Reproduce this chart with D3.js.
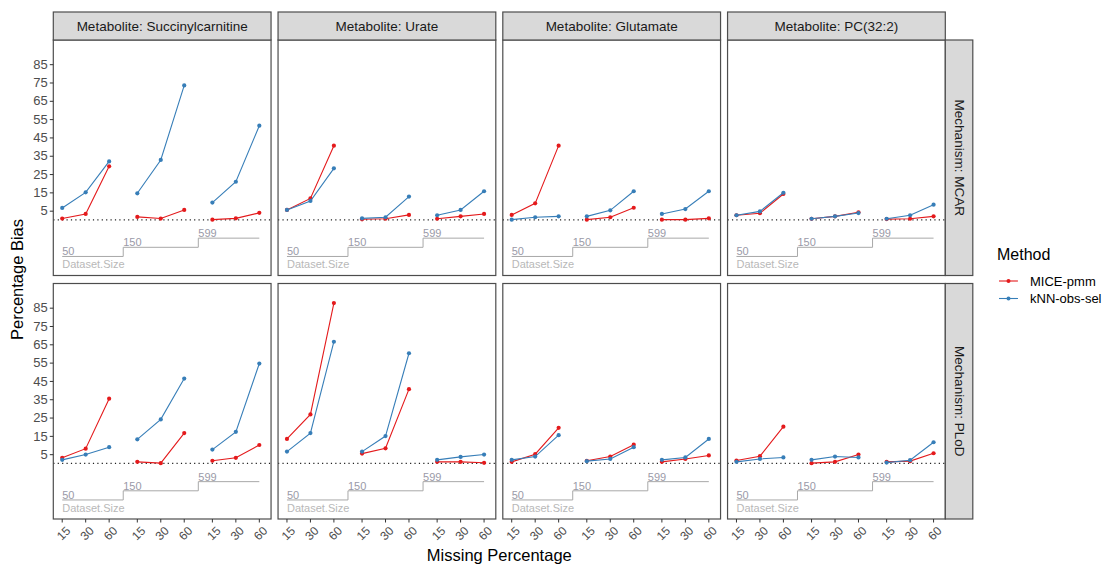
<!DOCTYPE html>
<html>
<head>
<meta charset="utf-8">
<script src="https://cdn.jsdelivr.net/npm/d3@7"></script>
<style>
  body { margin: 0; background: #fff; }
  svg { font-family: "Liberation Sans", Arial, sans-serif; }
</style>
</head>
<body>
<svg id="chart" width="1105" height="564"></svg>
<script>
// facet labels
let metabolites = ['Succinylcarnitine', 'Urate', 'Glutamate', 'PC(32:2)'];
let mechanisms = ['MCAR', 'PLoD'];
let methods = ['MICE-pmm', 'kNN-obs-sel'];
let methodColors = ['#E41A1C', '#377EB8'];
let datasetSizes = [50, 150, 599];
let missingPct = [15, 30, 60];
let yTicks = [5, 15, 25, 35, 45, 55, 65, 75, 85];

// bias values, one row per metabolite: size 50 (15,30,60), size 150 (15,30,60), size 599 (15,30,60)
let miceMCAR = [
    [0.7, 3.2, 29.2, 1.6, 0.7, 5.4, 0.1, 0.8, 3.8],
    [5.4, 11.7, 40.5, 0.3, 0.6, 2.7, 0.6, 1.9, 3.2],
    [2.7, 9.0, 40.5, 0.1, 1.4, 6.6, 0.1, 0.1, 0.8],
    [2.5, 3.6, 14.1, 0.6, 1.9, 4.1, 0.4, 0.6, 1.9]
];
let knnMCAR = [
    [6.5, 15.0, 31.9, 14.5, 32.7, 73.4, 9.4, 20.8, 51.4],
    [5.4, 10.3, 28.1, 0.8, 1.4, 12.7, 2.5, 5.4, 15.6],
    [0.1, 1.4, 1.9, 1.9, 5.2, 15.6, 3.2, 5.9, 15.6],
    [2.5, 4.6, 14.8, 0.6, 1.9, 3.7, 0.6, 2.5, 8.3]
];
let micePLoD = [
    [3.0, 8.0, 35.3, 0.8, 0.1, 16.5, 1.4, 3.0, 10.0],
    [13.3, 26.7, 87.5, 5.3, 8.2, 40.5, 0.8, 0.8, 0.3],
    [0.8, 5.0, 19.4, 1.4, 3.7, 10.2, 0.8, 2.4, 4.3],
    [1.5, 3.9, 20.0, 0.1, 0.8, 4.8, 0.8, 1.2, 5.5]
];
let knnPLoD = [
    [1.9, 4.8, 8.8, 13.1, 24.0, 46.3, 7.5, 17.2, 54.5],
    [6.4, 16.5, 66.4, 6.4, 14.9, 60.1, 1.9, 3.5, 4.8],
    [1.9, 3.7, 15.4, 1.2, 2.4, 8.8, 1.9, 3.2, 13.3],
    [0.8, 2.4, 3.2, 1.9, 3.7, 3.2, 0.4, 1.7, 11.5]
];

let biasData = {
    'MCAR': [miceMCAR, knnMCAR],
    'PLoD': [micePLoD, knnPLoD]
};

let LEFT = 53.3;
let TOP = 40;
let PANEL_W = 217.75;
let PANEL_H = 235.5;
let GAP_X = 7;
let GAP_Y = 8;
let STRIP = 28;
let GROUP_GAP = 3.2;

let svg = d3.select('#chart');

// x position within a panel: nested index (dataset size, then missing %)
function xIndex(g, p) { return g * GROUP_GAP + p; }

let xScale = d3.scaleLinear().domain([-0.38, 8.9]).range([0, PANEL_W]);
let yScale = d3.scaleLinear().domain([-30.4, 98.2]).range([PANEL_H, 0]);

// step line for dataset size
let stepBase = -20, stepHeight = 5;
let stepPts = [];
datasetSizes.forEach((s, g) => {
    let lvl = stepBase + g * stepHeight;
    let x0 = g == 0 ? xIndex(0, 0) : (xIndex(g - 1, 2) + xIndex(g, 0)) / 2;
    let x1 = g == datasetSizes.length - 1 ? xIndex(g, 2) : (xIndex(g, 2) + xIndex(g + 1, 0)) / 2;
    stepPts.push({x: x0, y: lvl, size: s});
    stepPts.push({x: x1, y: lvl});
});

let lineGen = d3.line().x(d => xScale(d.x)).y(d => yScale(d.y));

mechanisms.forEach((mech, r) => {
    metabolites.forEach((met, c) => {
        let px = LEFT + c * (PANEL_W + GAP_X);
        let py = TOP + r * (PANEL_H + GAP_Y);
        let g = svg.append('g').attr('transform', `translate(${px},${py})`);

        g.append('rect')
            .attr('width', PANEL_W).attr('height', PANEL_H)
            .attr('fill', 'white');

        // zero reference
        g.append('line')
            .attr('x1', 0).attr('x2', PANEL_W)
            .attr('y1', yScale(0)).attr('y2', yScale(0))
            .attr('stroke', '#222').attr('stroke-width', 1.1)
            .attr('stroke-dasharray', '1.2,3.2');

        // dataset size steps
        g.append('path')
            .datum(stepPts)
            .attr('d', lineGen)
            .attr('fill', 'none')
            .attr('stroke', '#a8a8a8')
            .attr('stroke-width', 1);

        g.selectAll('.steplab')
            .data(stepPts.filter(d => d.size))
            .join('text')
            .attr('x', d => xScale(d.x))
            .attr('y', d => yScale(d.y) - 1)
            .attr('font-size', 11)
            .attr('fill', '#9a9aa8')
            .text(d => d.size);

        g.append('text')
            .attr('x', xScale(xIndex(0, 0)))
            .attr('y', yScale(stepBase) + 12)
            .attr('font-size', 11)
            .attr('fill', '#b8b8b8')
            .text('Dataset.Size');

        methods.forEach((m, k) => {
            let vals = biasData[mech][k][c];
            let pts = [];
            datasetSizes.forEach((s, gi) => {
                missingPct.forEach((pc, pi) => {
                    pts.push({x: xIndex(gi, pi), y: vals[gi * 3 + pi], group: gi});
                });
            });
            datasetSizes.forEach((s, gi) => {
                g.append('path')
                    .datum(pts.filter(d => d.group == gi))
                    .attr('d', lineGen)
                    .attr('fill', 'none')
                    .attr('stroke', methodColors[k])
                    .attr('stroke-width', 1.1);
            });
            g.selectAll('.pt' + k)
                .data(pts)
                .join('circle')
                .attr('cx', d => xScale(d.x))
                .attr('cy', d => yScale(d.y))
                .attr('r', 2.1)
                .attr('fill', methodColors[k]);
        });

        g.append('rect')
            .attr('width', PANEL_W).attr('height', PANEL_H)
            .attr('fill', 'none')
            .attr('stroke', '#4d4d4d').attr('stroke-width', 1.2);

        // y axis on first column
        if (c == 0) {
            let ya = g.append('g')
                .call(d3.axisLeft(yScale).tickValues(yTicks).tickSize(3.5).tickPadding(2));
            ya.select('.domain').remove();
            ya.selectAll('line').attr('stroke', '#333');
            ya.selectAll('text').attr('font-size', 13).attr('fill', '#4d4d4d')
                .attr('font-family', '"Liberation Sans", Arial, sans-serif');
        }

        // x axis on bottom row
        if (r == mechanisms.length - 1) {
            let ticks = [];
            datasetSizes.forEach((s, gi) => missingPct.forEach((pc, pi) => ticks.push({x: xIndex(gi, pi), lab: pc})));
            let xa = g.append('g').attr('transform', `translate(0,${PANEL_H})`);
            xa.selectAll('line')
                .data(ticks).join('line')
                .attr('x1', d => xScale(d.x)).attr('x2', d => xScale(d.x))
                .attr('y1', 0).attr('y2', 3.5)
                .attr('stroke', '#333');
            xa.selectAll('text')
                .data(ticks).join('text')
                .attr('transform', d => `translate(${xScale(d.x) + 2},${15}) rotate(-45)`)
                .attr('text-anchor', 'middle')
                .attr('dominant-baseline', 'middle')
                .attr('font-size', 12)
                .attr('fill', '#4d4d4d')
                .text(d => d.lab);
        }

        // top strips
        if (r == 0) {
            svg.append('rect')
                .attr('x', px).attr('y', TOP - STRIP)
                .attr('width', PANEL_W).attr('height', STRIP)
                .attr('fill', '#d9d9d9')
                .attr('stroke', '#4d4d4d').attr('stroke-width', 1.2);
            svg.append('text')
                .attr('x', px + PANEL_W / 2).attr('y', TOP - STRIP / 2)
                .attr('text-anchor', 'middle')
                .attr('dominant-baseline', 'central')
                .attr('font-size', 13.5)
                .attr('fill', '#1a1a1a')
                .text('Metabolite: ' + met);
        }

        // right strips
        if (c == metabolites.length - 1) {
            let sx = px + PANEL_W;
            svg.append('rect')
                .attr('x', sx).attr('y', py)
                .attr('width', STRIP - 0.5).attr('height', PANEL_H)
                .attr('fill', '#d9d9d9')
                .attr('stroke', '#4d4d4d').attr('stroke-width', 1.2);
            svg.append('text')
                .attr('transform', `translate(${sx + STRIP / 2},${py + PANEL_H / 2}) rotate(90)`)
                .attr('text-anchor', 'middle')
                .attr('dominant-baseline', 'central')
                .attr('font-size', 13.5)
                .attr('fill', '#1a1a1a')
                .text('Mechanism: ' + mech);
        }
    });
});

// axis titles
let plotBottom = TOP + 2 * PANEL_H + GAP_Y;
let plotRight = LEFT + 4 * PANEL_W + 3 * GAP_X;
svg.append('text')
    .attr('x', (LEFT + plotRight) / 2).attr('y', 561)
    .attr('text-anchor', 'middle')
    .attr('font-size', 16.5)
    .attr('fill', '#000')
    .text('Missing Percentage');
svg.append('text')
    .attr('transform', `translate(23,${(TOP + plotBottom) / 2}) rotate(-90)`)
    .attr('text-anchor', 'middle')
    .attr('font-size', 16.5)
    .attr('fill', '#000')
    .text('Percentage Bias');

// legend
let lg = svg.append('g').attr('transform', 'translate(997,0)');
lg.append('text')
    .attr('x', 0).attr('y', 260)
    .attr('font-size', 16)
    .attr('fill', '#000')
    .text('Method');
methods.forEach((m, k) => {
    let ly = 281 + k * 17.5;
    lg.append('line')
        .attr('x1', 2).attr('x2', 21).attr('y1', ly).attr('y2', ly)
        .attr('stroke', methodColors[k]).attr('stroke-width', 1.1);
    lg.append('circle')
        .attr('cx', 11.5).attr('cy', ly).attr('r', 2)
        .attr('fill', methodColors[k]);
    lg.append('text')
        .attr('x', 33).attr('y', ly)
        .attr('dominant-baseline', 'central')
        .attr('font-size', 13)
        .attr('fill', '#000')
        .text(m);
});
</script>
</body>
</html>
